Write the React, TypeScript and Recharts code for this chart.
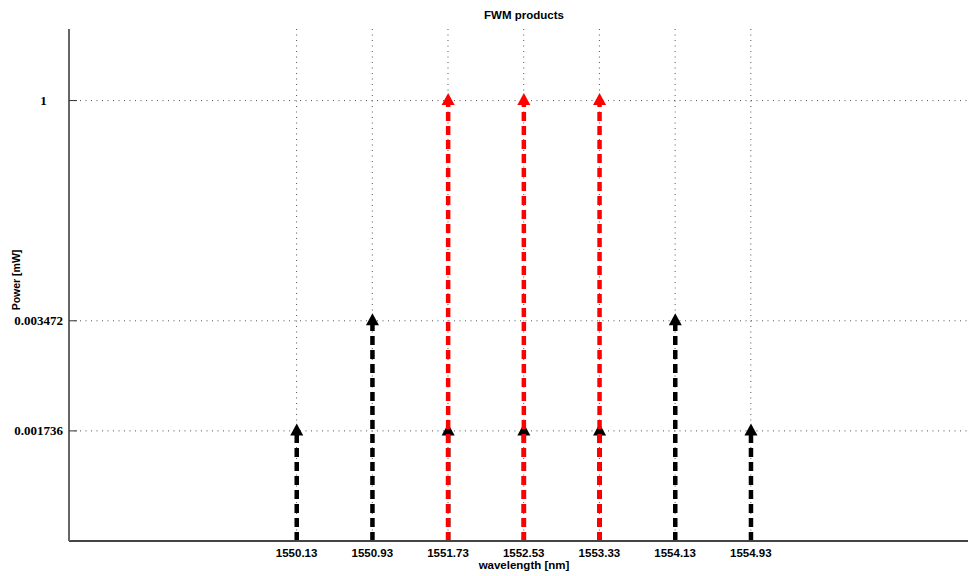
import React from 'react';
import {Bar, CartesianGrid, ComposedChart, XAxis, YAxis} from 'recharts';

// channel grid, nm
const wavelengths = [1550.13, 1550.93, 1551.73, 1552.53, 1553.33, 1554.13, 1554.93];
// mixing products (black), mW
const productPower = [0.001736, 0.003472, 0.001736, 0.001736, 0.001736, 0.003472, 0.001736];
// launched signals (red), mW
const signalWavelengths = [1551.73, 1552.53, 1553.33];
const signalPower = [1, 1, 1];

const powerTicks = [0.001736, 0.003472, 1];
const powerTickLabels = ['0.001736', '0.003472', '1'];

const data = wavelengths.map((w, i) => {
    const s = signalWavelengths.indexOf(w);
    return {wavelength: w, product: productPower[i], signal: s >= 0 ? signalPower[s] : null};
});

// power axis is not linear: each tick level sits on its own step
const levelStops = [0, 0.001736, 0.003472, 1];
const levelSteps = [0, 1, 2, 4];
const levelTop = 4.65;

function toLevel(v: number) {
    for (let i = 1; i < levelStops.length; i++) {
        if (v <= levelStops[i]) {
            const t = (v - levelStops[i - 1]) / (levelStops[i] - levelStops[i - 1]);
            return levelSteps[i - 1] + t * (levelSteps[i] - levelSteps[i - 1]);
        }
    }
    return levelSteps[levelSteps.length - 1];
}

function makeLevelScale(): any {
    let dom: any[] = [0, 1];
    let rng: number[] = [0, 1];
    const scale: any = (v: number) => rng[0] + (toLevel(v) / levelTop) * (rng[1] - rng[0]);
    scale.domain = (d?: any[]) => {
        if (d === undefined) return dom;
        dom = d;
        return scale;
    };
    scale.range = (r?: number[]) => {
        if (r === undefined) return rng;
        rng = r;
        return scale;
    };
    scale.copy = () => makeLevelScale().domain(dom).range(rng);
    scale.ticks = () => powerTicks;
    return scale;
}

const sansBold = {fontFamily: '"Liberation Sans", Arial, sans-serif', fontWeight: 'bold' as const};

const stem = (color: string) => (props: any) => {
    const {x, y, width, height} = props;
    if (height == null || !isFinite(y) || height <= 0) return <g/>;
    const cx = x + width / 2;
    const base = y + height;
    return (
        <g>
            <line x1={cx} y1={base} x2={cx} y2={y} stroke={color} strokeWidth={4.5} strokeDasharray="9 5"/>
            <polygon points={`${cx},${y - 7.5} ${cx - 6.5},${y + 4.5} ${cx + 6.5},${y + 4.5}`} fill={color}/>
        </g>
    );
};

const PowerTick = (props: any) => {
    const {x, y, payload} = props;
    const idx = powerTicks.indexOf(payload.value);
    const label = idx >= 0 ? powerTickLabels[idx] : String(payload.value);
    return (
        <g>
            <line x1={x} y1={y} x2={x + 8} y2={y} stroke="#333" strokeWidth={1}/>
            <text x={x - 6} y={y + 4} textAnchor="end" xmlSpace="preserve"
                  style={{whiteSpace: 'pre'}}
                  fontFamily='"Liberation Serif", "Times New Roman", serif' fontWeight="bold"
                  fontSize={13} fill="#000">
                {label.padEnd(6)}
            </text>
        </g>
    );
};

const WavelengthTick = (props: any) => {
    const {x, y, payload} = props;
    return (
        <text x={x} y={y + 14} textAnchor="middle" {...sansBold} fontSize={11.5} fill="#000">
            {payload.value.toFixed(2)}
        </text>
    );
};

export default function App() {
    return (
        <div style={{position: 'absolute', left: 0, top: 0, width: 969, height: 576, background: '#fff'}}>
            <ComposedChart width={969} height={576} data={data}
                           margin={{top: 29, right: 1, bottom: 0, left: 0}}>
                <CartesianGrid stroke="#555" strokeDasharray="1 4.5" strokeWidth={1} syncWithTicks/>
                <XAxis xAxisId={0} type="number" dataKey="wavelength"
                       domain={[1547.725, 1557.225]} ticks={wavelengths} interval={0}
                       height={35} tickSize={0} tickLine={false}
                       axisLine={{stroke: '#444', strokeWidth: 2}}
                       tick={<WavelengthTick/>}/>
                <XAxis xAxisId="sig" type="number" dataKey="wavelength"
                       domain={[1547.725, 1557.225]} hide/>
                <YAxis type="number" domain={[0, 1]} scale={makeLevelScale()} ticks={powerTicks}
                       interval={0} width={69} tickSize={0} tickMargin={0} tickLine={false}
                       axisLine={{stroke: '#666', strokeWidth: 2}}
                       tick={<PowerTick/>}/>
                <Bar xAxisId={0} dataKey="product" barSize={14} shape={stem('#000')}
                     isAnimationActive={false}/>
                <Bar xAxisId="sig" dataKey="signal" barSize={14} shape={stem('#ff0000')}
                     isAnimationActive={false}/>
            </ComposedChart>
            <div style={{position: 'absolute', left: 424, width: 200, top: 8, textAlign: 'center',
                fontSize: 11.5, lineHeight: '15px', ...sansBold}}>
                FWM products
            </div>
            <div style={{position: 'absolute', left: 424, width: 200, top: 558, textAlign: 'center',
                fontSize: 11.5, lineHeight: '15px', ...sansBold}}>
                wavelength [nm]
            </div>
            <div style={{position: 'absolute', left: 16, top: 280, width: 120, marginLeft: -60,
                marginTop: -7, textAlign: 'center', transform: 'rotate(-90deg)',
                fontSize: 10.5, lineHeight: '14px', ...sansBold}}>
                Power [mW]
            </div>
        </div>
    );
}
